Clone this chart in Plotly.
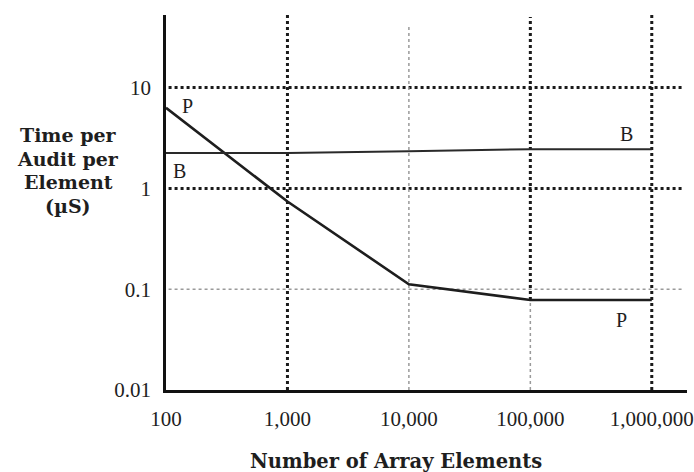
import math
import plotly.graph_objects as go

# ---- data ----
elements = [100, 1000, 10000, 100000, 1000000]
time_p = [6.3, 0.74, 0.112, 0.078, 0.078]
time_b = [2.24, 2.25, 2.34, 2.45, 2.45]
x_tickvals = [100, 1000, 10000, 100000, 1000000]
x_ticktext = ["100", "1,000", "10,000", "100,000", "1,000,000"]
y_tickvals = [0.01, 0.1, 1, 10]
y_ticktext = ["0.01", "0.1", "1", "10"]
y_title_lines = ["Time per", "Audit per", "Element", "(µS)"]
x_title = "Number of Array Elements"
# curve labels: text, x (elements), y (time)
curve_labels = [("P", 150, 6.6), ("B", 130, 1.48), ("B", 6.2e5, 3.47), ("P", 5.6e5, 0.05)]

FONT = "Liberation Serif, Times New Roman, serif"
TFONT = "DejaVu Serif, serif"
INK = "#1e1e1e"
HEAVY = dict(color="#1a1a1a", width=3, dash="dot")
LIGHT = dict(color="#9a9a9a", width=1.5, dash="dot")

Y_TOP = 10 ** 1.72
X_END = 10 ** 6.255

fig = go.Figure()
fig.add_trace(go.Scatter(x=elements, y=time_p, mode="lines",
                         line=dict(color=INK, width=2.6), showlegend=False))
fig.add_trace(go.Scatter(x=elements, y=time_b, mode="lines",
                         line=dict(color="#2a2a2a", width=2), showlegend=False))

shapes = []
for yv, st in [(10, HEAVY), (1, HEAVY), (0.1, LIGHT)]:
    shapes.append(dict(type="line", xref="x", yref="y", x0=105, x1=X_END,
                       y0=yv, y1=yv, line=st, layer="below"))
shapes.append(dict(type="line", xref="x", yref="y", x0=1000, x1=1000,
                   y0=0.01, y1=Y_TOP, line=HEAVY, layer="below"))
shapes.append(dict(type="line", xref="x", yref="y", x0=10000, x1=10000,
                   y0=0.01, y1=10 ** 1.62, line=LIGHT, layer="below"))
shapes.append(dict(type="line", xref="x", yref="y", x0=100000, x1=100000,
                   y0=time_p[3], y1=10 ** 1.70, line=HEAVY, layer="below"))
shapes.append(dict(type="line", xref="x", yref="y", x0=100000, x1=100000,
                   y0=0.01, y1=time_p[3], line=LIGHT, layer="below"))
shapes.append(dict(type="line", xref="x", yref="y", x0=1000000, x1=1000000,
                   y0=0.01, y1=Y_TOP, line=HEAVY, layer="below"))

annotations = []
for txt, xv, yv in curve_labels:
    annotations.append(dict(text=txt, x=math.log10(xv), y=math.log10(yv), xref="x", yref="y",
                            showarrow=False, font=dict(family=FONT, size=20, color=INK)))

for i, line in enumerate(y_title_lines):
    annotations.append(dict(text="<b>%s</b>" % line, xref="paper", yref="paper",
                            x=(68 - 166) / 521, y=(390 - (135 + i * 23.5)) / 375,
                            xanchor="center", yanchor="middle", showarrow=False,
                            font=dict(family=TFONT, size=19, color=INK)))
annotations.append(dict(text="<b>%s</b>" % x_title, xref="paper", yref="paper",
                        x=(396 - 166) / 521, y=(390 - 461) / 375,
                        xanchor="center", yanchor="middle", showarrow=False,
                        font=dict(family=TFONT, size=19.5, color=INK)))

fig.update_layout(
    width=694, height=472,
    margin=dict(l=166, r=7, t=15, b=82),
    paper_bgcolor="white", plot_bgcolor="white",
    font=dict(family=FONT, size=21, color=INK),
    shapes=shapes, annotations=annotations,
    xaxis=dict(type="log", range=[2, 6.29], tickvals=x_tickvals, ticktext=x_ticktext,
               showgrid=False, zeroline=False, showline=True, linecolor="#111",
               linewidth=2.5, ticks="", ticklabelstandoff=8, automargin=False),
    yaxis=dict(type="log", range=[-2, 1.72], tickvals=y_tickvals, ticktext=y_ticktext,
               showgrid=False, zeroline=False, showline=True, linecolor="#111",
               linewidth=2.5, ticks="", ticklabelstandoff=8, automargin=False),
)

fig.write_html("out.html", config={"displayModeBar": False},
               post_script="document.body.style.margin='0';")
